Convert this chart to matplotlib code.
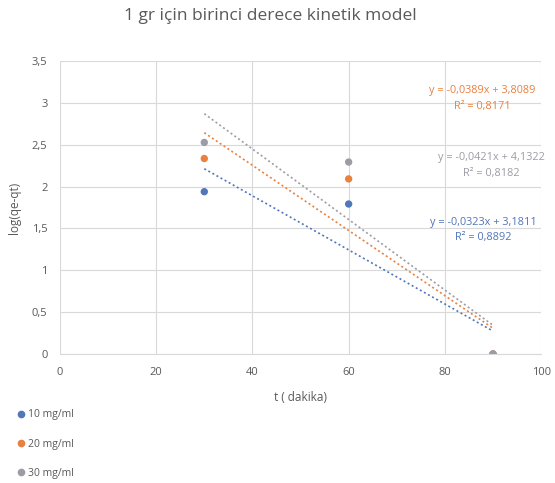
import numpy as np
import matplotlib
matplotlib.use('Agg')
import matplotlib.pyplot as plt
from matplotlib.lines import Line2D

plt.rcParams['font.family'] = ['Open Sans', 'DejaVu Sans']

# --- data ---
t_values = [30, 60, 90]
series_names = ['10 mg/ml', '20 mg/ml', '30 mg/ml']
y_10 = [1.938, 1.791, 0.0]
y_20 = [2.334, 2.091, 0.0]
y_30 = [2.526, 2.292, 0.0]
equations = ['y = -0,0323x + 3,1811\nR² = 0,8892',
             'y = -0,0389x + 3,8089\nR² = 0,8171',
             'y = -0,0421x + 4,1322\nR² = 0,8182']
label_pos = [(88.0, 1.48), (87.8, 3.05), (89.6, 2.25)]
colors = ['#5176BA', '#E8803F', '#9C9CA6']
text_grey = '#595959'

fig = plt.figure(figsize=(5.55, 4.83), dpi=100)
ax = fig.add_axes([0.108, 0.267, 0.867, 0.607])

all_y = [y_10, y_20, y_30]
for ys, col, eq, (lx, ly) in zip(all_y, colors, equations, label_pos):
    # linear trendline (Excel style), drawn over data range
    k, b = np.polyfit(t_values, ys, 1)
    xs = np.array([t_values[0], t_values[-1]])
    ax.plot(xs, k * xs + b, linestyle=(0, (1.2, 1.6)), color=col, lw=1.2, zorder=2)
    ax.scatter(t_values, ys, s=28, color=col, zorder=3, edgecolors='none')
    ax.text(lx, ly, eq, color=col, fontsize=7.8, ha='center', va='center',
            multialignment='center', linespacing=1.55)

ax.set_xlim(0, 100)
ax.set_ylim(0, 3.5)
ax.set_xticks(np.arange(0, 101, 20))
ax.set_yticks(np.arange(0, 3.51, 0.5))
ax.set_yticklabels(['0', '0,5', '1', '1,5', '2', '2,5', '3', '3,5'])
ax.grid(True, color='#d9d9d9', lw=0.8)
ax.set_axisbelow(True)
for s in ['top', 'right', 'left']:
    ax.spines[s].set_visible(False)
ax.spines['bottom'].set_color('#d9d9d9')
ax.tick_params(length=0, labelsize=8, colors=text_grey, pad=9)

ax.set_xlabel('t ( dakika)', fontsize=8.5, color=text_grey, labelpad=10)
ax.set_ylabel('log(qe-qt)', fontsize=8.5, color=text_grey, labelpad=8)
fig.text(0.487, 0.967, '1 gr için birinci derece kinetik model', ha='center',
         va='center', fontsize=12.5, color=text_grey)

handles = [Line2D([], [], marker='o', ls='none', color=c, markersize=4.5) for c in colors]
leg = fig.legend(handles, series_names, loc='upper left', bbox_to_anchor=(0.01, 0.172),
                 frameon=False, fontsize=7.5, handletextpad=0.1, labelspacing=1.75,
                 handlelength=1.2)
for txt in leg.get_texts():
    txt.set_color(text_grey)

fig.savefig('out.png', dpi=100)
